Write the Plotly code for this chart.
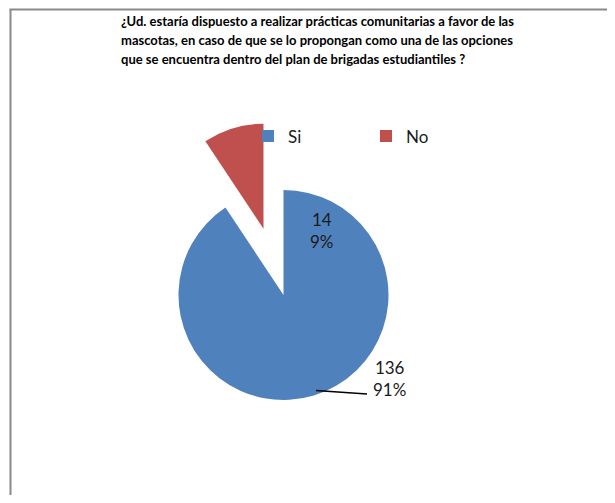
import plotly.graph_objects as go

# data
labels = ["Si", "No"]
values = [136, 14]
colors = ["#4F81BD", "#C0504D"]
pulls = [0, 0.66]
title_lines = [
    "¿Ud. estaría dispuesto a realizar prácticas comunitarias a favor de las",
    "mascotas, en caso de que se lo propongan como una de las opciones",
    "que se encuentra dentro del plan de brigadas estudiantiles ?",
]

# page is 615x503, body has an 8px margin -> figure is 599x487
OFF = 8
W, H = 615 - 2 * OFF, 503 - 2 * OFF
total = sum(values)
pcts = [round(100 * v / total) for v in values]


def px(x):
    # page pixel -> paper fraction
    return (x - OFF) / W


def py(y):
    return 1 - (y - OFF) / H


# pie centre / radius in page pixels
cx, cy, r = 283.5, 295, 105
half = r * (1 + max(pulls))

fig = go.Figure()
fig.add_trace(go.Pie(
    labels=labels, values=values, sort=False, direction="clockwise", rotation=0,
    pull=pulls, marker=dict(colors=colors, line=dict(width=0)),
    textinfo="none", hoverinfo="label+value+percent",
    domain=dict(x=[px(cx - half), px(cx + half)], y=[py(cy + half), py(cy - half)]),
))

# title, one annotation per line
for i, line in enumerate(title_lines):
    fig.add_annotation(text=f"<b>{line}</b>", x=px(119), y=py(11 + 19 * i), xref="paper", yref="paper",
                       xanchor="left", yanchor="top", showarrow=False,
                       font=dict(family="Lato", size=13, color="#000000"))

# data labels, Excel-style placement
label_pos = {"No": (322, 230), "Si": (389, 378)}
for lab, v, p in zip(labels, values, pcts):
    x, y = label_pos[lab]
    fig.add_annotation(text=f"{v}<br>{p}%", x=px(x), y=py(y), xref="paper", yref="paper",
                       xanchor="center", yanchor="middle", showarrow=False, align="center",
                       font=dict(family="Lato", size=17, color="#1a1a1a"))

# leader line for the Si label
fig.add_shape(type="line", xref="paper", yref="paper", x0=px(316), y0=py(390.5), x1=px(367), y1=py(394),
              line=dict(color="#000000", width=1.5))

# chart frame (left and top edges only, the rest runs off the page)
frame = dict(color="#898989", width=2)
fig.add_shape(type="line", xref="paper", yref="paper", x0=px(10.5), y0=-0.05, x1=px(10.5), y1=py(9.5), line=frame)
fig.add_shape(type="line", xref="paper", yref="paper", x0=px(9.5), y0=py(9.5), x1=1.05, y1=py(9.5), line=frame)

fig.update_layout(
    width=W, height=H, margin=dict(l=0, r=0, t=0, b=0),
    paper_bgcolor="white", plot_bgcolor="white",
    showlegend=True,
    legend=dict(orientation="h", x=px(248), y=py(118.5), xanchor="left", yanchor="top",
                entrywidth=73, entrywidthmode="pixels", traceorder="normal",
                font=dict(family="Lato", size=17, color="#1a1a1a"),
                itemwidth=30, bgcolor="rgba(0,0,0,0)"),
)

fig.write_html("out.html")
